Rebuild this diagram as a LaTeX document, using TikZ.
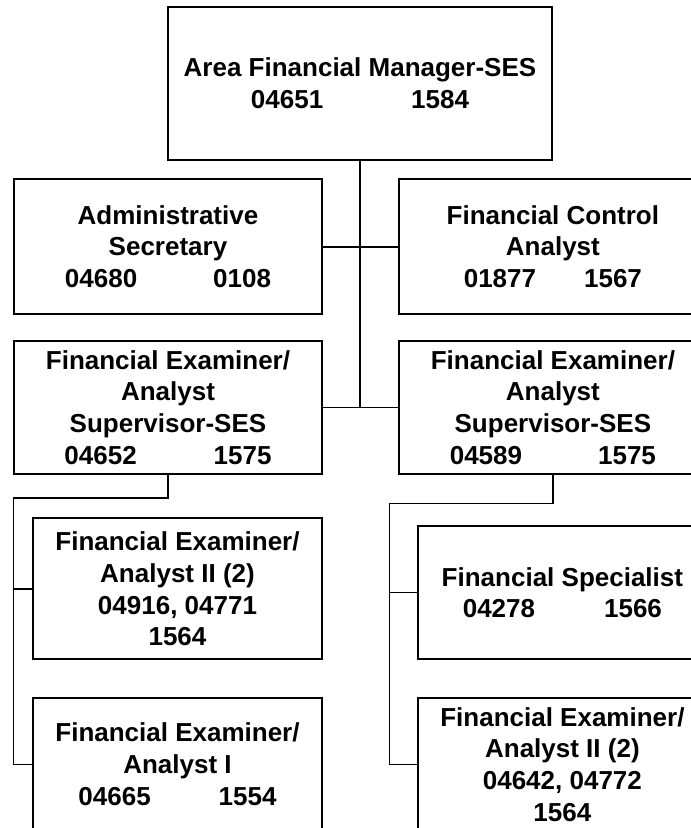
\documentclass[tikz,border=0pt]{standalone}
\usepackage{fontspec}
\setmainfont{Liberation Sans}
\usepackage{tikz}
\usetikzlibrary{positioning, calc}

\begin{document}
\begin{tikzpicture}[
  x=1pt, y=-1pt,
  font=\bfseries\fontsize{26pt}{31.7pt}\selectfont,
  post/.style={draw, line width=2pt, inner sep=0pt, outer sep=0pt, align=center},
  widepost/.style={post, minimum width=308.3pt},
  narrowpost/.style={post, minimum width=288.4pt},
  link/.style={line width=1.6pt}
]
  \useasboundingbox (0,0) rectangle (691,828);
  \clip (0,0) rectangle (691,828);

  \node[post, minimum width=384.3pt, minimum height=153.3pt]
    (afm) at (360,83.3) {Area Financial Manager-SES\\04651\hspace{88pt}1584};

  \node[widepost, minimum height=134.7pt]
    (admin) at (168,246.7) {Administrative\\Secretary\\04680\hspace{76pt}0108};
  \node[widepost, minimum height=134.7pt, right=76.6pt of admin]
    (fca) {Financial Control\\Analyst\\01877\hspace{48pt}1567};

  \node[widepost, minimum height=133.3pt, below=26.7pt of admin]
    (supl) {Financial Examiner/\\Analyst\\Supervisor-SES\\04652\hspace{77pt}1575};
  \node[widepost, minimum height=133.3pt, right=76.6pt of supl]
    (supr) {Financial Examiner/\\Analyst\\Supervisor-SES\\04589\hspace{76pt}1575};

  % staff under each supervisor
  \node[narrowpost, minimum height=141pt, below right=44.3pt and 19.45pt of supl.south west]
    (fea2l) {Financial Examiner/\\Analyst II (2)\\04916, 04771\\1564};
  \node[narrowpost, minimum height=133.2pt, below=38.4pt of fea2l]
    (fea1) {Financial Examiner/\\Analyst I\\04665\hspace{68pt}1554};

  \node[narrowpost, minimum height=133.6pt, below right=51.7pt and 19.45pt of supr.south west]
    (spec) {Financial Specialist\\04278\hspace{69pt}1566};
  \node[narrowpost, minimum height=133.2pt, below=38.4pt of spec]
    (fea2r) {Financial Examiner/\\Analyst II (2)\\04642, 04772\\1564};

  \draw[link] (afm.south) -- (afm.south |- supl.east);
  \draw[link] (admin.east) -- (fca.west);
  \draw[link] (supl.east) -- (supr.west);

  \coordinate (raill) at ($(supl.south west)+(-0.5,23.7)$);
  \draw[link] (supl.south) |- (raill) |- (fea1.west);
  \draw[link] (raill |- fea2l.west) -- (fea2l.west);

  \coordinate (railr) at ($(supr.south west)+(-9.15,29.3)$);
  \draw[link] (supr.south) |- (railr) |- (fea2r.west);
  \draw[link] (railr |- spec.west) -- (spec.west);
\end{tikzpicture}
\end{document}
